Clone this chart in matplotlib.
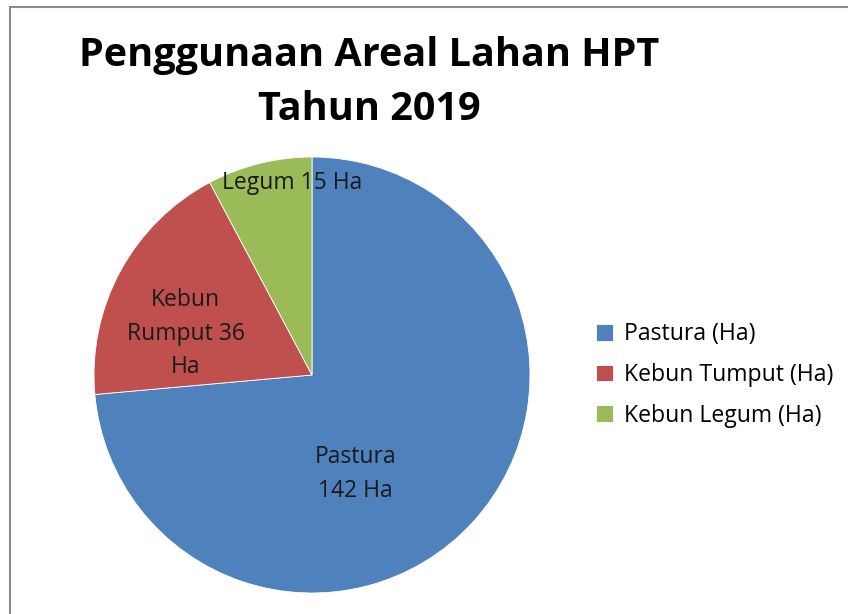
import matplotlib.pyplot as plt
from matplotlib.patches import Rectangle

# Luas lahan HPT 2019 (Ha)
categories = ["Pastura (Ha)", "Kebun Tumput (Ha)", "Kebun Legum (Ha)"]
values = [142, 36, 15]
slice_labels = ["Pastura\n142 Ha", "Kebun\nRumput 36\nHa", "Legum 15 Ha"]
colors = ["#4F81BD", "#C0504D", "#9BBB59"]

plt.rcParams['font.family'] = ['Open Sans', 'DejaVu Sans']

fig = plt.figure(figsize=(8.48, 6.14), dpi=100)

# chart frame
fig.patches.append(Rectangle((10 / 848, -0.01), 1.0, 1 - 7 / 614 + 0.01,
                             transform=fig.transFigure, fill=False,
                             edgecolor="#8c8c8c", linewidth=1.5))

ax = fig.add_axes([94 / 848, 21 / 614, 436 / 848, 436 / 614])
wedges, _ = ax.pie(values, colors=colors, startangle=90, counterclock=False,
                   radius=1.0, wedgeprops=dict(edgecolor="white", linewidth=0.6))
ax.set_xlim(-1, 1)
ax.set_ylim(-1, 1)
ax.set_aspect("equal")

label_pos = [(0.20, -0.455), (-0.58, 0.19), (-0.09, 0.88)]
for txt, (x, y) in zip(slice_labels, label_pos):
    ax.text(x, y, txt, ha="center", va="center", fontsize=16.5,
            color="#1a1a1a", linespacing=1.55)

fig.text(0.435, 0.865, "Penggunaan Areal Lahan HPT\nTahun 2019", ha="center",
         va="center", fontsize=28.5, fontweight="bold", linespacing=1.5)

fig.legend(wedges, categories, loc="center left",
           bbox_to_anchor=(575 / 848, 1 - 375 / 614), frameon=False,
           fontsize=16.6, handlelength=0.74, handleheight=0.74,
           labelspacing=0.72, handletextpad=0.48)

fig.savefig("out.png", dpi=100)
